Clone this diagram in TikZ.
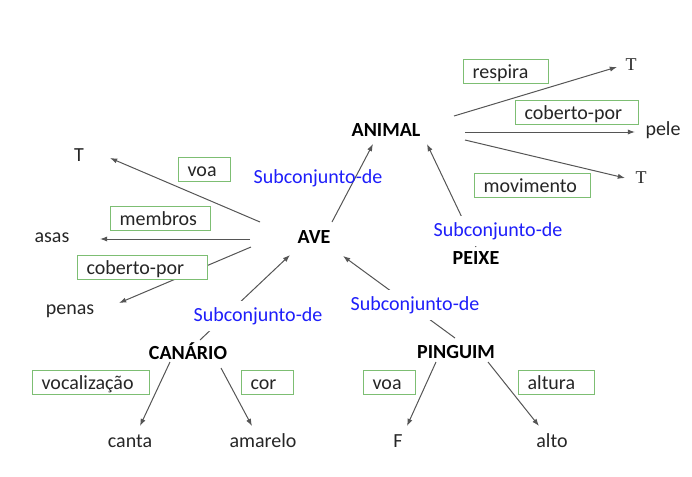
\documentclass[tikz,border=0pt]{standalone}
\usepackage{fontspec}
\setmainfont{Carlito}
\newfontfamily\timesT{Liberation Serif}
\usepackage{xcolor}
\usetikzlibrary{calc,arrows.meta}
\definecolor{boxgreen}{RGB}{125,190,115}
\definecolor{subblue}{RGB}{30,30,250}
\definecolor{linegray}{RGB}{85,85,85}
\tikzset{>=latex}

\begin{document}
\begin{tikzpicture}[x=0.5pt, y=-0.5pt, font=\fontsize{10}{12}\selectfont,
  every node/.style={inner sep=0pt},
  cls/.style={font=\fontsize{10}{12}\selectfont\bfseries},
  val/.style={text=black!85},
  lbl/.style={draw=boxgreen, line width=0.6pt, fill=white, anchor=north west,
    text width=#1, align=left, inner xsep=4.5pt, inner ysep=1pt,
    text height=8.5pt, text depth=1.6pt, text=black!85},
  sub/.style={text=subblue, fill=white, inner xsep=6pt, inner ysep=3pt},
  arr/.style={->, draw=linegray, line width=0.5pt, >={Latex[length=3.6pt,width=2.6pt]}}]
  \useasboundingbox (0,0) rectangle (692,477);
  \node[cls] (animal) at (386,130) {ANIMAL};
  \node[cls] (ave) at (314,237) {AVE};
  \node[cls] (peixe) at (476,258) {PEIXE};
  \node[cls] (canario) at (188,351) {CANÁRIO};
  \node[cls] (pinguim) at (456,352) {PINGUIM};
  \node[val, font=\fontsize{9}{11}\selectfont\timesT] (tresp) at (631,65) {T};
  \node[val] (pele) at (663,130) {pele};
  \node[val, font=\fontsize{9}{11}\selectfont\timesT] (tmov) at (641,178) {T};
  \node[val] (tvoa) at (79,155) {T};
  \node[val] (asas) at (52,238) {asas};
  \node[val] (penas) at (70,311) {penas};
  \node[val] (canta) at (130,441) {canta};
  \node[val] (amarelo) at (263,441) {amarelo};
  \node[val] (f) at (398,441) {F};
  \node[val] (alto) at (552,441) {alto};
  \draw[arr] ($(animal)+(68,-14)$) -- ($(tresp)+(-14,2)$);
  \draw[arr] ($(animal)+(79,2)$) -- ($(pele)+(-28,2)$);
  \draw[arr] ($(animal)+(79,10)$) -- ($(tmov)+(-16,0)$);
  \draw[arr] ($(ave)+(18,-15)$) -- ($(animal)+(-13,14)$);
  \draw[arr] ($(peixe)+(0,-11)$) -- ($(animal)+(41,14)$);
  \draw[arr] ($(ave)+(-54,-15)$) -- ($(tvoa)+(31,3)$);
  \draw[arr] ($(ave)+(-64,2)$) -- ($(asas)+(48,1)$);
  \draw[arr] ($(ave)+(-63,10)$) -- ($(penas)+(49,-8)$);
  \draw[arr] ($(canario)+(12,-11)$) -- ($(ave)+(-24,18)$);
  \draw[arr] ($(pinguim)+(-1,-14)$) -- ($(ave)+(29,19)$);
  \draw[arr] ($(canario)+(-18,11)$) -- ($(canta)+(10,-15)$);
  \draw[arr] ($(canario)+(33,17)$) -- ($(amarelo)+(-11,-15)$);
  \draw[arr] ($(pinguim)+(-20,10)$) -- ($(f)+(9,-15)$);
  \draw[arr] ($(pinguim)+(32,10)$) -- ($(alto)+(-13,-15)$);
  \node[sub, fill=none] (subave) at (318,178) {Subconjunto-de};
  \node[sub] (subpeixe) at (498,231) {Subconjunto-de};
  \node[sub] (subcanario) at (258,316) {Subconjunto-de};
  \node[sub] (subpinguim) at (415,305) {Subconjunto-de};
  \node[lbl=33.5pt] (respira) at (463,59) {respira};
  \node[lbl=52.5pt] (cobpele) at (515,100) {coberto-por};
  \node[lbl=49pt] (movimento) at (474,173) {movimento};
  \node[lbl=17pt] (voaave) at (178,157) {voa};
  \node[lbl=41pt] (membros) at (110,206) {membros};
  \node[lbl=56pt] (cobpenas) at (77,255) {coberto-por};
  \node[lbl=49.5pt] (vocal) at (32,370) {vocalização};
  \node[lbl=17pt] (cor) at (241,370) {cor};
  \node[lbl=17pt] (voapinguim) at (363,370) {voa};
  \node[lbl=29pt] (altura) at (518,370) {altura};
\end{tikzpicture}
\end{document}
